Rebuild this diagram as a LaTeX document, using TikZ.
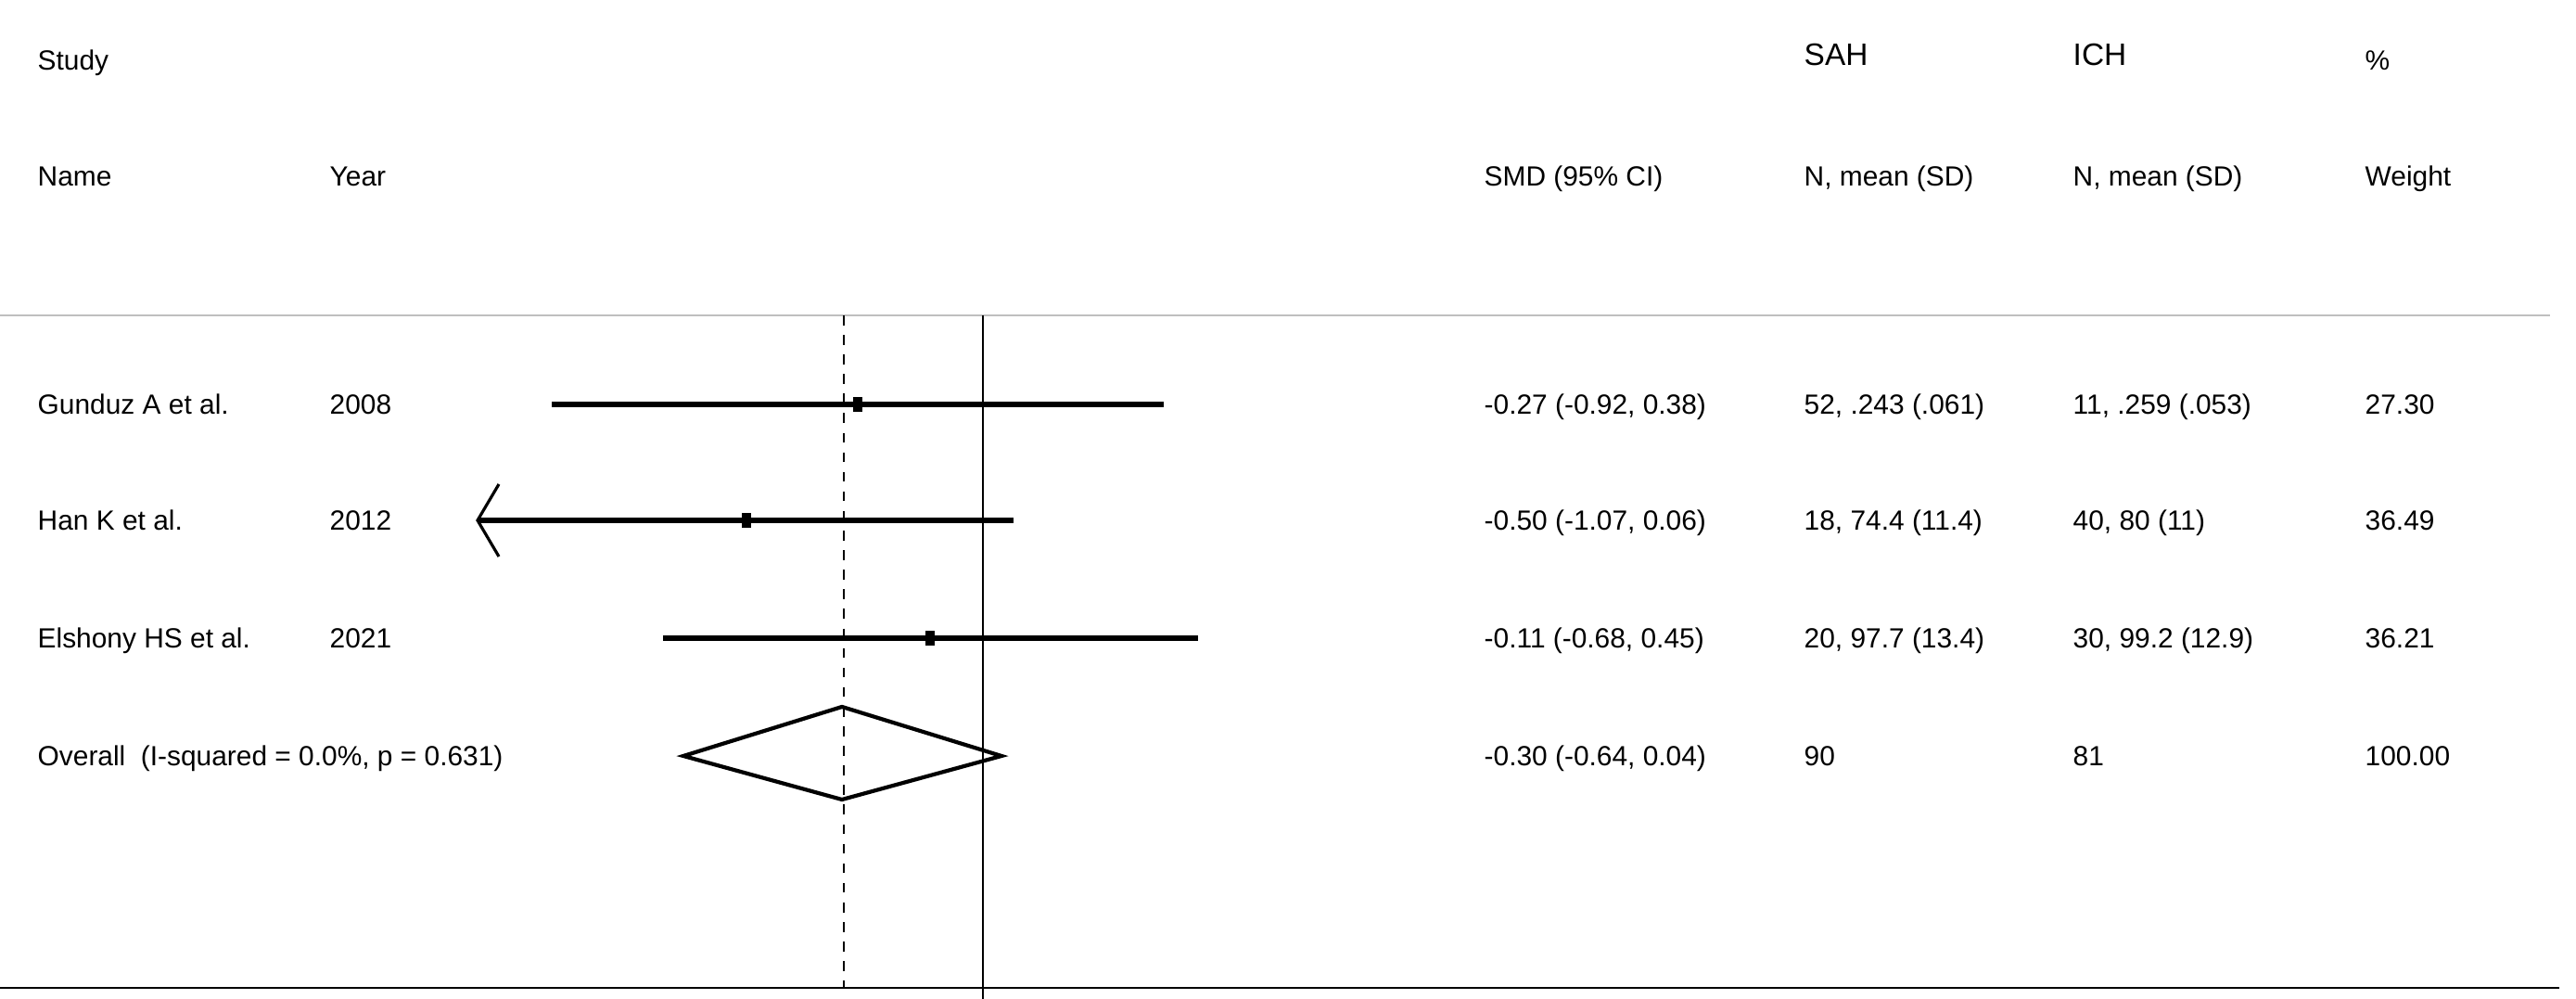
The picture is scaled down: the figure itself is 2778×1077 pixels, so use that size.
\documentclass[tikz,border=0pt]{standalone}
\usepackage{fontspec}
\setmainfont{Liberation Sans}
\begin{document}
\begin{tikzpicture}[x=0.01cm,y=-0.01cm,
  txt/.style={anchor=west,inner sep=0pt,text height=6.2pt,text depth=0pt,font=\fontsize{8.5}{10}\selectfont},
  ci/.style={line width=1.6pt},
  pt/.style={rectangle,fill=black,inner sep=0pt,minimum width=3pt,minimum height=4.5pt}]
\useasboundingbox (0,0) rectangle (2778,1077);
% header
\node[txt] (study) at (40,65) {Study};
\node[txt] (sah) at (1945,60) {\fontsize{9.5}{11}\selectfont SAH};
\node[txt] (ich) at (2235,60) {\fontsize{9.5}{11}\selectfont ICH};
\node[txt] (pct) at (2550,65) {\%};
\node[txt] (name) at (40,190) {Name};
\node[txt] (year) at (355,190) {Year};
\node[txt] (smd) at (1600,190) {SMD (95\% CI)};
\node[txt] (nm1) at (1945,190) {N, mean (SD)};
\node[txt] (nm2) at (2235,190) {N, mean (SD)};
\node[txt] (wt) at (2550,190) {Weight};
\draw[gray!50,line width=0.8pt] (0,340) -- (2750,340);
\draw[line width=0.8pt] (0,1065) -- (2760,1065);
\draw[line width=0.6pt] (1060,340) -- (1060,1077);
\draw[dashed,line width=0.6pt] (910,340) -- (910,1065);
% rows
\node[txt] at (40,436) {Gunduz A et al.};
\node[txt] at (355,436) {2008};
\node[txt] at (1600,436) {-0.27 (-0.92, 0.38)};
\node[txt] at (1945,436) {52, .243 (.061)};
\node[txt] at (2235,436) {11, .259 (.053)};
\node[txt] at (2550,436) {27.30};
\coordinate (g1) at (595,436); \coordinate (g2) at (1255,436);
\draw[ci] (g1) -- (g2);
\node[pt] at (925,436) {};
\node[txt] at (40,561) {Han K et al.};
\node[txt] at (355,561) {2012};
\node[txt] at (1600,561) {-0.50 (-1.07, 0.06)};
\node[txt] at (1945,561) {18, 74.4 (11.4)};
\node[txt] at (2235,561) {40, 80 (11)};
\node[txt] at (2550,561) {36.49};
\coordinate (h1) at (515,561); \coordinate (h2) at (1093,561);
\draw[ci] (h1) -- (h2);
\draw[line width=0.9pt] (538,522) -- (h1) -- (538,600);
\node[pt] at (805,561) {};
\node[txt] at (40,688) {Elshony HS et al.};
\node[txt] at (355,688) {2021};
\node[txt] at (1600,688) {-0.11 (-0.68, 0.45)};
\node[txt] at (1945,688) {20, 97.7 (13.4)};
\node[txt] at (2235,688) {30, 99.2 (12.9)};
\node[txt] at (2550,688) {36.21};
\coordinate (e1) at (715,688); \coordinate (e2) at (1292,688);
\draw[ci] (e1) -- (e2);
\node[pt] at (1003,688) {};
\node[txt] at (40,815) {Overall\ \ (I-squared = 0.0\%, p = 0.631)};
\node[txt] at (1600,815) {-0.30 (-0.64, 0.04)};
\node[txt] at (1945,815) {90};
\node[txt] at (2235,815) {81};
\node[txt] at (2550,815) {100.00};
\draw[line width=1.2pt] (737,815) -- (908,762) -- (1080,815) -- (908,862) -- cycle;
\end{tikzpicture}
\end{document}
